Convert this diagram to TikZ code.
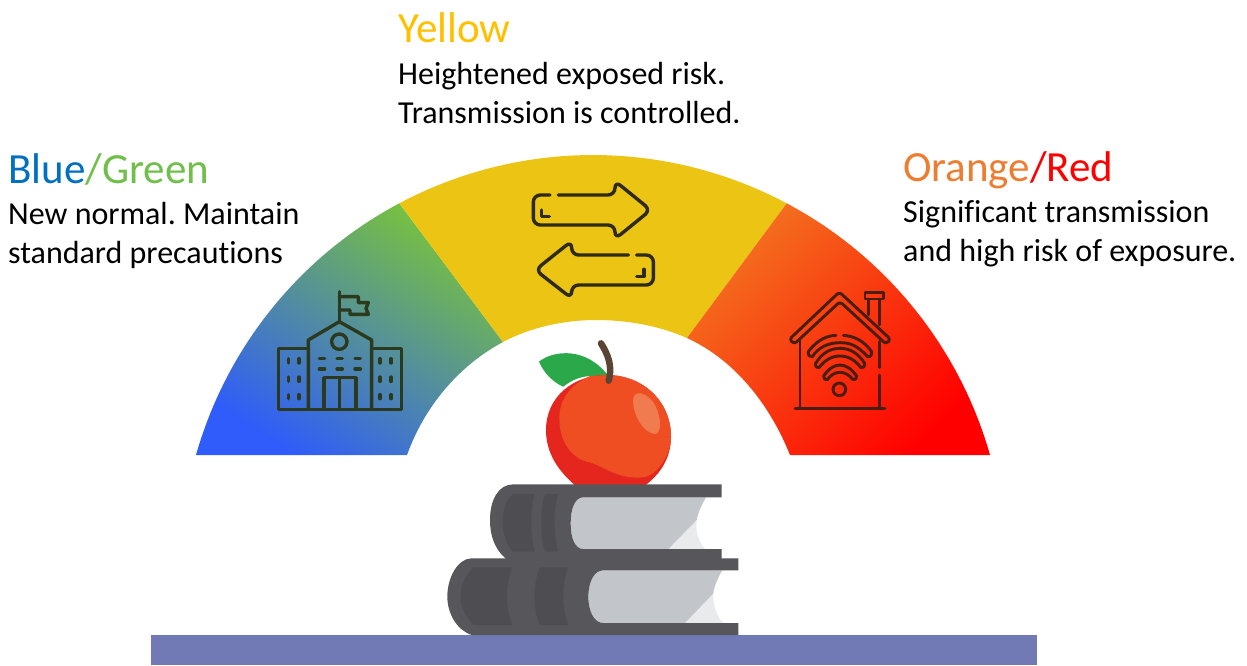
\documentclass[tikz,border=0pt]{standalone}
\usepackage{fontspec}
\setmainfont[Ligatures=NoCommon]{Carlito}
\frenchspacing
\definecolor{ylw}{HTML}{ECC413}
\definecolor{gbot}{HTML}{2F5CFA}
\definecolor{gmid}{HTML}{5C9F80}
\definecolor{gtop}{HTML}{78C23E}
\definecolor{ogtop}{HTML}{F3721F}
\definecolor{rbot}{HTML}{FF0000}
\definecolor{tblue}{HTML}{0070C0}
\definecolor{tgreen}{HTML}{70BF4A}
\definecolor{tyel}{HTML}{FFC000}
\definecolor{torange}{HTML}{ED7D31}
\definecolor{tred}{HTML}{FF0000}
\definecolor{cover}{HTML}{57575B}
\definecolor{band}{HTML}{4E4E52}
\definecolor{pagec}{HTML}{C2C6CA}
\definecolor{pagel}{HTML}{E8EAEC}
\definecolor{applered}{HTML}{E5261F}
\definecolor{appleorg}{HTML}{EF4E22}
\definecolor{applehi}{HTML}{F07B4E}
\definecolor{leaf}{HTML}{2BA84A}
\definecolor{stem}{HTML}{5C4434}
\definecolor{barc}{HTML}{717AB5}
\definecolor{schoolc}{HTML}{2B3A1E}
\definecolor{arrowc}{HTML}{2E2A1E}
\definecolor{housec}{HTML}{4A1D10}
\tikzset{
  zoomed/.style 2 args={x=0.33333pt,y=-0.33333pt,shift={(#1pt,-#2pt)}},
  title/.style={anchor=base west,inner sep=0pt,font=\fontsize{43}{43}\selectfont},
  body/.style={anchor=base west,inner sep=0pt,font=\fontsize{32}{32}\selectfont},
  icon/.style={line width=3.4pt,line cap=round,line join=round},
  thin icon/.style={line width=2.9pt,line cap=round,line join=round},
}
\begin{document}
\begin{tikzpicture}[x=1pt,y=-1pt]
\useasboundingbox (0,0) rectangle (1247,665);
\fill[white] (0,0) rectangle (1247,665);
% bar
\fill[barc] (151,635) rectangle (1037,665);
% gauge
\path[shade,bottom color=gbot,middle color=gmid,top color=gtop,shading angle=-33]
  plot[domain=164.15:118,samples=40] ({593+412.7*cos(\x)},{567.7-412.7*sin(\x)})
  -- (503,342) .. controls (460,365) and (425,405) .. (407,455) -- cycle;
\fill[ylw]
  plot[domain=118:62,samples=40] ({593+412.7*cos(\x)},{567.7-412.7*sin(\x)})
  -- (687,338) .. controls (660,326) and (628,320) .. (596,320) .. controls (565,320) and (531,327) .. (503,342) -- cycle;
\path[shade,bottom color=rbot,top color=ogtop,shading angle=45]
  plot[domain=62:15.85,samples=40] ({593+412.7*cos(\x)},{567.7-412.7*sin(\x)})
  -- (790,455) .. controls (770,405) and (735,360) .. (687,338) -- cycle;
% school
\begin{scope}[zoomed={260}{280},draw=schoolc,icon]
  \draw (238,35) -- (238,125);
  \draw (238,50) -- (295,50) -- (295,68) -- (325,68) -- (318,85) -- (325,103) -- (270,103) -- (270,90) -- (238,90);
  \draw (145,388) -- (145,180) -- (238,125) -- (335,180) -- (335,388);
  \draw (238,185) circle[radius=23];
  \draw (145,205) -- (55,205) -- (55,388) -- (425,388) -- (425,205) -- (335,205);
  \draw (192,388) -- (192,293) -- (288,293) -- (288,388);
  \draw (238,293) -- (238,388);
  \foreach \yy in {235,267}{
    \draw (178,\yy) -- (194,\yy) (231,\yy) -- (247,\yy) (285,\yy) -- (301,\yy);
  }
  \foreach \xx in {85,117,360,393}{
    \draw (\xx,236) -- (\xx,249) (\xx,291) -- (\xx,304) (\xx,344) -- (\xx,356);
  }
\end{scope}
% arrows
\begin{scope}[zoomed={500}{160},draw=arrowc,icon]
  \draw[rounded corners=7pt] (150,105) -- (100,105) -- (100,195) -- (345,195) -- (345,237) -- (452,150) -- (345,63) -- (345,105) -- (175,105);
  \draw (125,150) -- (125,170) -- (148,170);
  \draw[rounded corners=7pt] (385,285) -- (215,285) -- (215,243) -- (106,330) -- (215,415) -- (215,375) -- (460,375) -- (460,285) -- (410,285);
  \draw (432,328) -- (432,350) -- (410,350);
\end{scope}
% house
\begin{scope}[zoomed={760}{270},draw=housec,thin icon]
  \draw[rounded corners=3pt] (88,208) -- (238,66) -- (392,208) -- (378,222) -- (240,95) -- (103,222) -- cycle;
  \draw (120,205) -- (120,415);
  \draw (358,215) -- (358,293) (358,315) -- (358,415);
  \draw (105,415) -- (375,415);
  \draw (315,67) rectangle (370,87);
  \draw (325,87) -- (325,135) (358,87) -- (358,165);
  \draw (228,196) .. controls (205,197) and (175,205) .. (145,245) .. controls (143,256) and (150,262) .. (157,260) .. controls (175,232) and (205,218) .. (240,218) .. controls (270,218) and (290,225) .. (323,260) .. controls (332,262) and (338,252) .. (335,245) .. controls (310,210) and (280,198) .. (250,196);
  \draw (167,280) .. controls (185,250) and (210,235) .. (240,235) .. controls (270,235) and (295,250) .. (314,280) .. controls (315,290) and (308,295) .. (303,293) .. controls (285,270) and (265,258) .. (240,258) .. controls (215,258) and (195,270) .. (177,293) .. controls (172,295) and (165,290) .. (167,280) -- cycle;
  \draw (191,318) .. controls (205,297) and (222,285) .. (240,285) .. controls (258,285) and (275,297) .. (290,318) .. controls (290,326) and (285,331) .. (279,329) .. controls (268,315) and (255,307) .. (240,307) .. controls (225,307) and (212,315) .. (202,329) .. controls (196,331) and (190,326) .. (191,318) -- cycle;
  \draw (238,358) circle[radius=19];
\end{scope}
% books and apple
\begin{scope}[zoomed={430}{330}]
  % apple
  \fill[leaf] (327,95) .. controls (370,60) and (470,50) .. (535,138) -- (480,138) .. controls (450,140) and (425,150) .. (400,170) .. controls (365,155) and (340,125) .. (327,95) -- cycle;
  \fill[applered] (440,470) .. controls (380,420) and (348,365) .. (348,300) .. controls (348,200) and (430,135) .. (530,135) .. controls (640,135) and (723,215) .. (723,320) .. controls (723,385) and (690,435) .. (640,470) -- cycle;
  \fill[appleorg] (480,138) .. controls (420,165) and (388,210) .. (388,265) .. controls (388,330) and (420,380) .. (470,395) .. controls (520,405) and (545,440) .. (620,443) .. controls (650,443) and (665,435) .. (680,420) .. controls (708,390) and (723,355) .. (723,320) .. controls (723,215) and (640,135) .. (530,135) -- cycle;
  \fill[applehi] (610,205) .. controls (615,180) and (650,185) .. (675,225) .. controls (695,265) and (695,310) .. (675,312) .. controls (640,310) and (605,250) .. (610,205) -- cycle;
  \draw[stem,line width=6.5pt,line cap=round] (513,40) .. controls (535,75) and (548,110) .. (536,152);
  % top book
  \fill[pagel] (715,657) -- (800,570) .. controls (795,610) and (810,640) .. (825,657) -- cycle;
  \fill[pagec] (460,502) -- (828,502) .. controls (815,525) and (805,545) .. (800,570) -- (715,657) -- (460,657) .. controls (435,657) and (422,625) .. (422,580) .. controls (422,535) and (435,502) .. (460,502) -- cycle;
  \fill[cover] (250,463) -- (875,463) -- (875,502) -- (460,502) .. controls (435,502) and (422,535) .. (422,580) .. controls (422,625) and (435,657) .. (460,657) -- (875,657) -- (875,695) -- (240,695) .. controls (200,670) and (180,625) .. (180,570) .. controls (180,510) and (205,463) .. (250,463) -- cycle;
  \fill[band] (250,492) -- (315,492) .. controls (300,530) and (300,620) .. (315,665) -- (250,665) .. controls (230,650) and (218,610) .. (218,575) .. controls (218,535) and (230,505) .. (250,492) -- cycle;
  \fill[band] (345,492) -- (385,492) .. controls (370,530) and (370,620) .. (385,665) -- (345,665) .. controls (330,620) and (330,530) .. (345,492) -- cycle;
  % bottom book
  \fill[pagel] (765,879) -- (850,790) .. controls (848,825) and (860,860) .. (880,879) -- cycle;
  \fill[pagec] (520,721) -- (877,721) .. controls (865,740) and (852,770) .. (850,790) -- (765,879) -- (520,879) .. controls (490,879) and (475,840) .. (475,800) .. controls (475,760) and (490,721) .. (520,721) -- cycle;
  \fill[cover] (125,685) -- (925,685) -- (925,721) -- (520,721) .. controls (490,721) and (475,760) .. (475,800) .. controls (475,840) and (490,879) .. (520,879) -- (925,879) -- (925,915) -- (125,915) .. controls (80,900) and (52,850) .. (52,800) .. controls (52,740) and (85,685) .. (125,685) -- cycle;
  \fill[band] (130,712) -- (248,712) .. controls (225,760) and (225,840) .. (248,885) -- (130,885) .. controls (105,860) and (92,830) .. (92,800) .. controls (92,765) and (105,735) .. (130,712) -- cycle;
  \fill[band] (330,712) -- (415,712) .. controls (395,760) and (395,840) .. (415,885) -- (330,885) .. controls (308,840) and (308,760) .. (330,712) -- cycle;
\end{scope}
% texts
\node[title] (ytitle) at (398,42) {\textcolor{tyel}{Yellow}};
\node[body] (yone) at (398,84.5) {Heightened exposed risk.};
\node[body] (ytwo) at (398,123.5) {Transmission is controlled.};
\node[title] (btitle) at (8,183) {\textcolor{tblue}{Blue}\textcolor{tgreen}{/Green}};
\node[body] (bone) at (8,224.5) {New normal. Maintain};
\node[body] (btwo) at (8,263.5) {standard precautions};
\node[title] (otitle) at (903,181) {\textcolor{torange}{Orange}\textcolor{tred}{/Red}};
\node[body] (oone) at (903,222.5) {Significant transmission};
\node[body] (otwo) at (903,261.5) {and high risk of exposure.};
\end{tikzpicture}
\end{document}
